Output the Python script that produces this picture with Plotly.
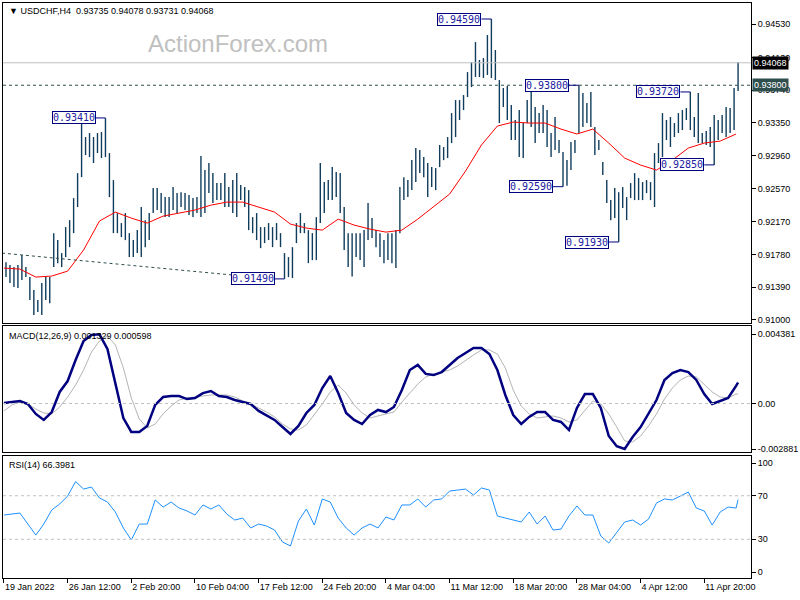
import plotly.graph_objects as go

# ---------------- data ----------------
# drawn H4 bars: bar number (0 = first bar, 19 Jan 2022) and high / low
bar_num = list(range(1, 370, 2))
highs = [
    0.91690, 0.91655, 0.91631, 0.91655, 0.91774, 0.91631, 0.91512, 0.91357, 0.91237, 0.91440,
    0.91512, 0.91512, 0.92036, 0.91953, 0.91798, 0.92108, 0.92191, 0.92454, 0.92752, 0.93349,
    0.93182, 0.93230, 0.93182, 0.93230, 0.93242, 0.93410, 0.92991, 0.92669, 0.92275, 0.92156,
    0.92275, 0.92036, 0.91953, 0.92072, 0.92347, 0.92191, 0.92275, 0.92573, 0.92573, 0.92514,
    0.92466, 0.92466, 0.92585, 0.92514, 0.92525, 0.92514, 0.92490, 0.92454, 0.92466, 0.92955,
    0.92788, 0.92872, 0.92752, 0.92633, 0.92633, 0.92752, 0.92585, 0.92669, 0.92752, 0.92609,
    0.92585, 0.92549, 0.92227, 0.92275, 0.92108, 0.92108, 0.92156, 0.92108, 0.92156, 0.92036,
    0.91798, 0.91750, 0.91869, 0.92156, 0.92275, 0.92156, 0.92072, 0.92036, 0.92227, 0.92872,
    0.92645, 0.92669, 0.92824, 0.92764, 0.92752, 0.92347, 0.92036, 0.92036, 0.92036, 0.92036,
    0.92072, 0.92394, 0.92215, 0.92072, 0.92036, 0.91953, 0.92036, 0.92036, 0.92072, 0.92585,
    0.92704, 0.92669, 0.92907, 0.93051, 0.93027, 0.92943, 0.92872, 0.92824, 0.92812, 0.93087,
    0.93063, 0.93182, 0.93468, 0.93623, 0.93623, 0.93683, 0.93957, 0.94077, 0.94315, 0.94101,
    0.94124, 0.94399, 0.94590, 0.94220, 0.93862, 0.93767, 0.93790, 0.93564, 0.93385, 0.93504,
    0.93349, 0.93623, 0.93778, 0.93540, 0.93468, 0.93564, 0.93504, 0.93230, 0.93421, 0.93146,
    0.93003, 0.92907, 0.93122, 0.93146, 0.93800, 0.93707, 0.93588, 0.93719, 0.93301, 0.93146,
    0.92884, 0.92669, 0.92430, 0.92573, 0.92525, 0.92585, 0.92466, 0.92633, 0.92752, 0.92693,
    0.92645, 0.92669, 0.92645, 0.92991, 0.93110, 0.93468, 0.93385, 0.93421, 0.93349, 0.93468,
    0.93504, 0.93528, 0.93720, 0.93421, 0.93707, 0.93230, 0.93254, 0.93301, 0.93444, 0.93385,
    0.93444, 0.93540, 0.93528, 0.93767, 0.94078,
]
lows = [
    0.91512, 0.91440, 0.91392, 0.91380, 0.91476, 0.91512, 0.91237, 0.91058, 0.91094, 0.91058,
    0.91237, 0.91201, 0.91631, 0.91678, 0.91631, 0.91750, 0.91869, 0.92036, 0.92347, 0.92704,
    0.92967, 0.92943, 0.92872, 0.92991, 0.92931, 0.92943, 0.92466, 0.92036, 0.92036, 0.91989,
    0.91953, 0.91750, 0.91750, 0.91798, 0.91750, 0.91869, 0.91953, 0.92275, 0.92311, 0.92275,
    0.92227, 0.92227, 0.92311, 0.92275, 0.92347, 0.92311, 0.92251, 0.92227, 0.92275, 0.92227,
    0.92275, 0.92514, 0.92394, 0.92430, 0.92430, 0.92347, 0.92347, 0.92275, 0.92227, 0.92430,
    0.92347, 0.92072, 0.92036, 0.91953, 0.91857, 0.91917, 0.91953, 0.91869, 0.91953, 0.91869,
    0.91490, 0.91512, 0.91500, 0.91917, 0.92036, 0.92036, 0.91678, 0.91714, 0.91714, 0.92156,
    0.92275, 0.92430, 0.92430, 0.92466, 0.92275, 0.91834, 0.91631, 0.91520, 0.91750, 0.91714,
    0.91631, 0.91953, 0.91977, 0.91869, 0.91750, 0.91678, 0.91714, 0.91678, 0.91619, 0.92036,
    0.92430, 0.92466, 0.92549, 0.92645, 0.92752, 0.92704, 0.92466, 0.92585, 0.92549, 0.92824,
    0.92907, 0.92931, 0.93110, 0.93182, 0.93385, 0.93504, 0.93659, 0.93778, 0.93898, 0.93898,
    0.93886, 0.93922, 0.93886, 0.93862, 0.93349, 0.93540, 0.93385, 0.93146, 0.93146, 0.92943,
    0.92931, 0.93349, 0.93301, 0.93110, 0.93230, 0.93230, 0.93063, 0.92943, 0.93027, 0.92991,
    0.92590, 0.92600, 0.92788, 0.92991, 0.93230, 0.93301, 0.93349, 0.93301, 0.92967, 0.93027,
    0.92728, 0.92394, 0.92191, 0.92215, 0.91930, 0.92335, 0.92191, 0.92454, 0.92430, 0.92430,
    0.92430, 0.92514, 0.92430, 0.92347, 0.92872, 0.92943, 0.93146, 0.93063, 0.93182, 0.93230,
    0.93265, 0.93385, 0.93265, 0.93182, 0.93110, 0.93110, 0.93087, 0.93063, 0.92850, 0.93146,
    0.93230, 0.93182, 0.93230, 0.93265, 0.93731,
]

# moving average (red) sampled every 8 bars
ma_bar = list(range(0, 369, 8))
ma_vals = [
    0.91619, 0.91607, 0.91512, 0.91524, 0.91583, 0.91834, 0.92180, 0.92287, 0.92215, 0.92156,
    0.92239, 0.92275, 0.92311, 0.92370, 0.92406, 0.92406, 0.92347, 0.92287, 0.92144, 0.92096,
    0.92072, 0.92203, 0.92132, 0.92084, 0.92048, 0.92072, 0.92203, 0.92347, 0.92502, 0.92776,
    0.93087, 0.93313, 0.93361, 0.93349, 0.93349, 0.93277, 0.93218, 0.93277, 0.93110, 0.92931,
    0.92848, 0.92788, 0.92907, 0.93051, 0.93110, 0.93134, 0.93218,
]

# indicators sampled every 4 bars, plus the last bar
ind_bar = list(range(0, 369, 4)) + [369]
macd_main = [
    0.00003, 0.00009, 0.00016, -0.00003, -0.00066, -0.00104, -0.00054, 0.00073, 0.00142, 0.00275,
    0.00396, 0.00434, 0.00438, 0.00345, 0.00117, -0.00092, -0.00180, -0.00180, -0.00142, -0.00009,
    0.00041, 0.00047, 0.00047, 0.00028, 0.00035, 0.00066, 0.00079, 0.00047, 0.00041, 0.00022,
    0.00009, -0.00003, -0.00047, -0.00073, -0.00104, -0.00149, -0.00193, -0.00142, -0.00060, -0.00009,
    0.00098, 0.00174, 0.00066, -0.00060, -0.00104, -0.00130, -0.00073, -0.00041, -0.00054, -0.00022,
    0.00085, 0.00212, 0.00244, 0.00187, 0.00180, 0.00199, 0.00244, 0.00288, 0.00320, 0.00351,
    0.00351, 0.00313, 0.00212, 0.00054, -0.00073, -0.00130, -0.00085, -0.00054, -0.00054, -0.00104,
    -0.00117, -0.00168, -0.00028, 0.00060, 0.00060, -0.00028, -0.00206, -0.00270, -0.00288, -0.00212,
    -0.00149, -0.00060, 0.00022, 0.00149, 0.00193, 0.00212, 0.00199, 0.00149, 0.00060, -0.00003,
    0.00016, 0.00035, 0.00111, 0.001329,
]
macd_signal = [
    -0.00047, -0.00009, 0.00009, -0.00003, -0.00035, -0.00060, -0.00066, -0.00022, 0.00041, 0.00117,
    0.00212, 0.00326, 0.00396, 0.00427, 0.00370, 0.00225, 0.00035, -0.00098, -0.00155, -0.00130,
    -0.00066, -0.00016, 0.00022, 0.00035, 0.00041, 0.00047, 0.00054, 0.00054, 0.00054, 0.00041,
    0.00016, -0.00003, -0.00028, -0.00054, -0.00085, -0.00130, -0.00161, -0.00168, -0.00136, -0.00073,
    -0.00003, 0.00073, 0.00117, 0.00066, -0.00009, -0.00060, -0.00092, -0.00079, -0.00066, -0.00054,
    0.00009, 0.00066, 0.00123, 0.00168, 0.00187, 0.00199, 0.00212, 0.00237, 0.00275, 0.00307,
    0.00339, 0.00339, 0.00313, 0.00225, 0.00085, -0.00016, -0.00066, -0.00092, -0.00085, -0.00079,
    -0.00092, -0.00117, -0.00104, -0.00041, 0.00016, -0.00003, -0.00066, -0.00149, -0.00237, -0.00244,
    -0.00206, -0.00142, -0.00066, 0.00028, 0.00098, 0.00149, 0.00174, 0.00168, 0.00123, 0.00073,
    0.00041, 0.00035, 0.00060, 0.000598,
]
rsi_vals = [
    52.3, 53.2, 54.1, 44.0, 33.9, 44.0, 56.9, 62.4, 69.7, 83.0,
    76.1, 78.0, 67.9, 64.2, 55.0, 40.4, 29.4, 44.0, 44.0, 66.1,
    59.6, 64.2, 58.7, 56.0, 52.3, 61.5, 57.8, 61.5, 53.2, 47.7,
    49.5, 40.4, 44.0, 42.2, 38.5, 27.5, 23.9, 46.8, 57.8, 43.1,
    67.0, 64.2, 49.5, 40.4, 33.9, 40.4, 44.0, 40.4, 50.5, 47.7,
    61.5, 61.5, 67.0, 59.6, 66.1, 67.0, 74.3, 75.2, 76.1, 70.6,
    77.1, 75.2, 51.4, 49.5, 47.7, 45.9, 55.0, 44.0, 51.4, 38.5,
    39.4, 51.4, 60.6, 52.3, 52.3, 33.0, 26.6, 36.7, 45.9, 47.7,
    43.1, 48.6, 63.3, 67.0, 66.1, 69.7, 73.4, 58.7, 56.0, 43.1,
    55.0, 59.6, 58.7, 66.4,
]

xtick_bars = [0, 32, 64, 96, 128, 160, 192, 224, 256, 288, 320, 352]
xtick_text = ["19 Jan 2022", "26 Jan 12:00", "2 Feb 20:00", "10 Feb 04:00", "17 Feb 12:00",
              "24 Feb 20:00", "4 Mar 04:00", "11 Mar 12:00", "18 Mar 20:00", "28 Mar 04:00",
              "4 Apr 12:00", "11 Apr 20:00"]
price_ticks = [0.94530, 0.94130, 0.93740, 0.93350, 0.92960, 0.92570, 0.92170, 0.91780, 0.91390, 0.91000]
macd_ticks = [0.004381, 0.0, -0.002881]
macd_ticktext = ["0.004381", "0.00", "-0.002881"]
rsi_ticks = [100, 70, 30, 0]
rsi_levels = [70, 30]

high_labels = [0.93410, 0.94590, 0.93800, 0.93720]
low_labels = [0.91490, 0.92590, 0.91930, 0.92850]
bid_price = 0.94068
level_price = 0.93800
trend_bars = [-1, 115]
trend_prices = [0.91798, 0.91536]

title_text = "\u25bc USDCHF,H4  0.93735 0.94078 0.93731 0.94068"
macd_title = "MACD(12,26,9) 0.001329 0.000598"
rsi_title = "RSI(14) 66.3981"

# ---------------- styling ----------------
BAR = "#113d5c"
FONT = "Liberation Sans"
NAVY = "#000080"

fig = go.Figure()

xs, ys = [], []
for b, h, l in zip(bar_num, highs, lows):
    xs += [b, b, None]
    ys += [l, h, None]
fig.add_trace(go.Scatter(x=xs, y=ys, mode="lines", line=dict(color=BAR, width=1.4),
                         xaxis="x", yaxis="y", hoverinfo="skip"))
fig.add_trace(go.Scatter(x=ma_bar, y=ma_vals, mode="lines", line=dict(color="#ff0000", width=1),
                         xaxis="x", yaxis="y"))
fig.add_trace(go.Scatter(x=trend_bars, y=trend_prices, mode="lines",
                         line=dict(color="#2f4f4f", width=1, dash="3px,3px"), xaxis="x", yaxis="y"))
fig.add_trace(go.Scatter(x=ind_bar, y=macd_signal, mode="lines", line=dict(color="#b4b4b4", width=1),
                         xaxis="x2", yaxis="y2"))
fig.add_trace(go.Scatter(x=ind_bar, y=macd_main, mode="lines", line=dict(color="#000080", width=2.5),
                         xaxis="x2", yaxis="y2"))
fig.add_trace(go.Scatter(x=ind_bar, y=rsi_vals, mode="lines", line=dict(color="#1e90ff", width=1),
                         xaxis="x3", yaxis="y3"))

shapes = []
annotations = []
shapes.append(dict(type="line", xref="x domain", yref="y", x0=0, x1=1, y0=bid_price, y1=bid_price,
                   line=dict(color="#c0c0c0", width=1)))
shapes.append(dict(type="line", xref="x domain", yref="y", x0=0, x1=1, y0=level_price, y1=level_price,
                   line=dict(color="#2f4f4f", width=1, dash="3px,3px")))
shapes.append(dict(type="line", xref="x2 domain", yref="y2", x0=0, x1=1, y0=0, y1=0,
                   line=dict(color="#c0c0c0", width=1, dash="3px,3px")))
for lv in rsi_levels:
    shapes.append(dict(type="line", xref="x3 domain", yref="y3", x0=0, x1=1, y0=lv, y1=lv,
                       line=dict(color="#c0c0c0", width=1, dash="3px,3px")))


def add_label(bar, val):
    shapes.append(dict(type="line", xref="x", yref="y", x0=bar - 5, x1=bar, y0=val, y1=val,
                       line=dict(color=NAVY, width=1)))
    annotations.append(dict(x=bar - 5, y=val, xref="x", yref="y", text=f"{val:.5f}", showarrow=False,
                            xanchor="right", yanchor="middle", bgcolor="white", bordercolor=NAVY,
                            borderwidth=1, borderpad=0,
                            font=dict(family="DejaVu Sans Mono", size=10, color="#2020a0")))


for v in high_labels:
    add_label(bar_num[highs.index(v)], v)
for v in low_labels:
    add_label(bar_num[lows.index(v)], v)

annotations.append(dict(x=1, y=bid_price, xref="paper", yref="y", text=f"{bid_price:.5f}", showarrow=False,
                        xanchor="left", yanchor="middle", xshift=1, bgcolor="black", borderpad=1,
                        font=dict(family=FONT, size=9, color="white")))
annotations.append(dict(x=1, y=level_price, xref="paper", yref="y", text=f"{level_price:.5f}",
                        showarrow=False, xanchor="left", yanchor="middle", xshift=1, bgcolor="#2f4f4f",
                        borderpad=1, font=dict(family=FONT, size=9, color="white")))

T, B = 3, 22
H = 600 - T - B


def py(pix):
    return (600 - B - pix) / H


annotations.append(dict(x=0, y=py(11), xref="paper", yref="paper", text=title_text, showarrow=False,
                        xanchor="left", yanchor="middle", xshift=4, font=dict(family=FONT, size=9, color="black")))
annotations.append(dict(x=0, y=py(336), xref="paper", yref="paper", text=macd_title, showarrow=False,
                        xanchor="left", yanchor="middle", xshift=4, font=dict(family=FONT, size=9, color="black")))
annotations.append(dict(x=0, y=py(465), xref="paper", yref="paper", text=rsi_title, showarrow=False,
                        xanchor="left", yanchor="middle", xshift=4, font=dict(family=FONT, size=9, color="black")))
annotations.append(dict(x=0.314, y=py(43), xref="paper", yref="paper", text="ActionForex.com", showarrow=False,
                        xanchor="center", yanchor="middle", font=dict(family=FONT, size=24, color="#c0c0c0")))

xr = [-0.5, 375.5]
common_x = dict(range=xr, showgrid=False, zeroline=False, showline=True, mirror=True,
                linecolor="black", linewidth=1, fixedrange=True)
common_y = dict(side="right", showgrid=False, zeroline=False, showline=True, mirror=True,
                linecolor="black", linewidth=1, ticks="outside", ticklen=4, tickcolor="black",
                tickfont=dict(family=FONT, size=9, color="black"))

fig.update_layout(
    width=800, height=600,
    margin=dict(l=2, r=46, t=T, b=B),
    paper_bgcolor="white", plot_bgcolor="white",
    showlegend=False,
    xaxis=dict(anchor="y", showticklabels=False, **common_x),
    xaxis2=dict(anchor="y2", showticklabels=False, matches="x", **common_x),
    xaxis3=dict(anchor="y3", tickvals=xtick_bars, ticktext=xtick_text, ticks="outside", ticklen=4,
                tickcolor="black", ticklabelposition="outside right",
                tickfont=dict(family=FONT, size=9, color="black"), matches="x", **common_x),
    yaxis=dict(domain=[py(323), 1], range=[0.90964, 0.94781], tickvals=price_ticks,
               tickformat=".5f", **common_y),
    yaxis2=dict(domain=[py(452), py(326)], range=[-0.00307, 0.004905], tickvals=macd_ticks,
                ticktext=macd_ticktext, **common_y),
    yaxis3=dict(domain=[0, py(455.5)], range=[-5.5, 106.9], tickvals=rsi_ticks, **common_y),
    shapes=shapes, annotations=annotations,
)

fig.write_html("out.html", config={"displayModeBar": False},
               post_script="document.body.style.margin='0px';document.body.style.overflow='hidden';")
